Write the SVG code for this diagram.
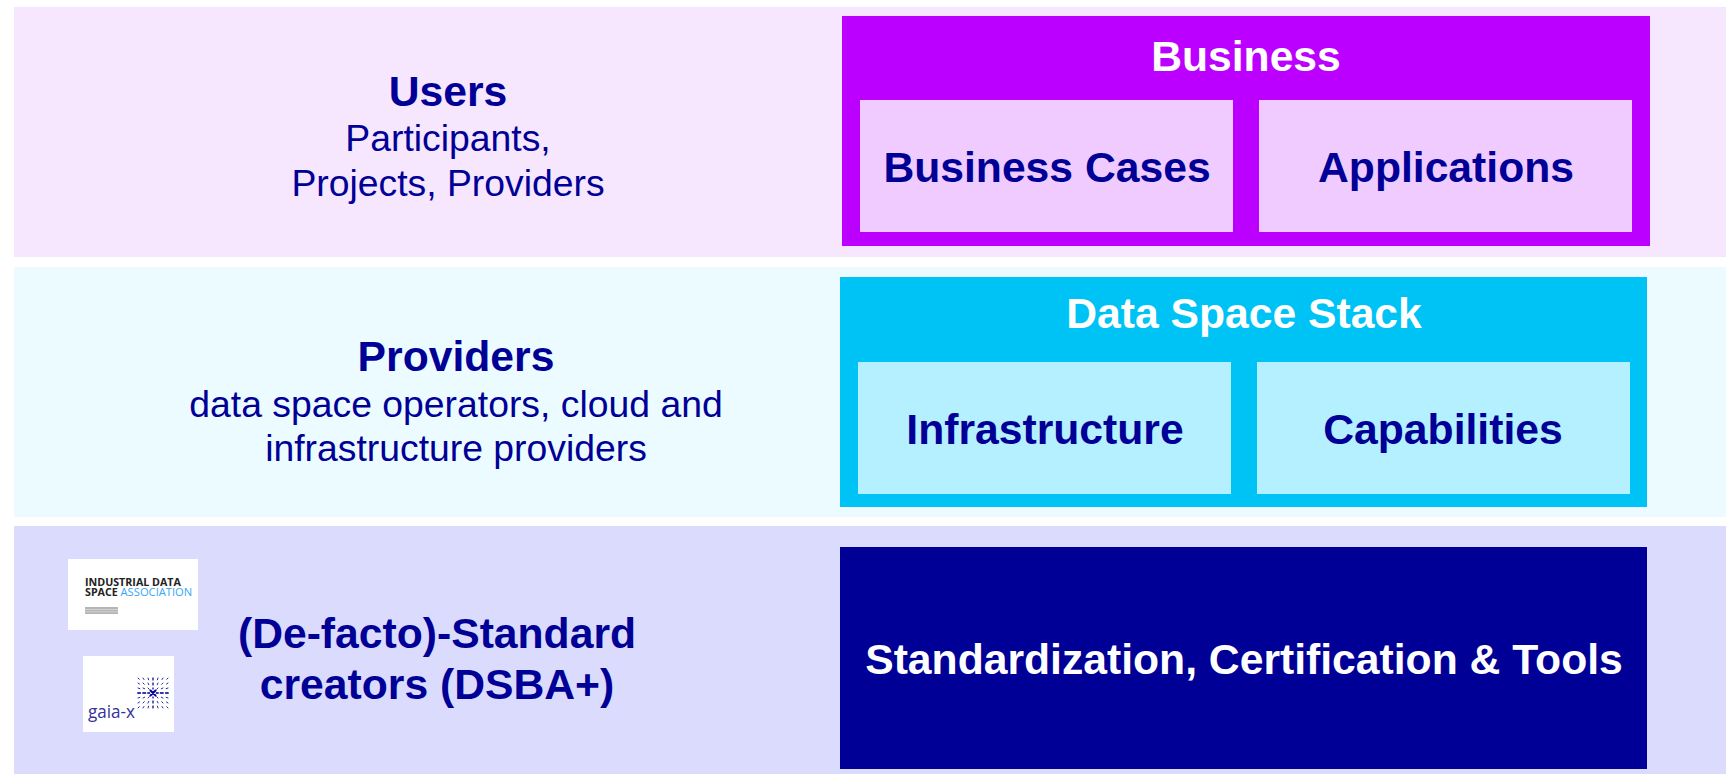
<svg xmlns="http://www.w3.org/2000/svg" width="1726" height="774" viewBox="0 0 1726 774">
<style>
text{font-family:"Liberation Sans",Arial,sans-serif;text-anchor:middle;fill:#000096}
.b{font-weight:700;font-size:42.67px}
.r{font-size:37.33px}
.w{fill:#fff}
.logo{text-anchor:start;font-family:"Open Sans","DejaVu Sans",sans-serif;font-weight:700;font-size:10.7px;fill:#222}
</style>
<defs>
<g id="quad" stroke="#2A2A9C" stroke-linecap="round" fill="none">
<path stroke-width="1" d="M138 678l1.300 1.300M143 678l1 1.500M148 678l.6 1.800M153 678v2M138 683l1.500 1M143 683l1.300 1.300M148 683l.8 1.700M153 683v2M138 688l1.800 .6M143 688l1.700 .8M148 688l1.300 1.300M153 688v1"/>
<path stroke-width="1.500" d="M138 693h2.300M143 693h2.500M148 693h1.500"/>
</g>
</defs>
<rect width="1726" height="774" fill="#fff"/>
<g id="band-users">
<rect x="14" y="7" width="1712" height="250" fill="#F6E6FE"/>
<text class="b" x="448" y="106">Users</text>
<text class="r" x="448" y="151">Participants,</text>
<text class="r" x="448" y="196">Projects, Providers</text>
</g>
<g id="band-providers">
<rect x="14" y="267" width="1712" height="250" fill="#ECFBFF"/>
<text class="b" x="456" y="371">Providers</text>
<text class="r" x="456" y="417">data space operators, cloud and</text>
<text class="r" x="456" y="461">infrastructure providers</text>
</g>
<g id="band-standards">
<rect x="14" y="526" width="1712" height="248" fill="#DBDBFD"/>
<text class="b" x="437" y="648">(De-facto)-Standard</text>
<text class="b" x="437" y="699">creators (DSBA+)</text>
</g>
<g id="logo-idsa">
<rect x="68" y="559" width="130" height="71" fill="#fff"/>
<text class="logo" x="85" y="586">INDUSTRIAL DATA<tspan x="85" dy="10">SPACE </tspan><tspan fill="#3AA5F5" font-weight="400" font-size="11.2">ASSOCIATION</tspan></text>
<rect x="85" y="607" width="33" height="7" fill="#b5b5b5"/>
<path d="M85 609.500h33M85 611.800h33" stroke="#e0e0e0" stroke-width=".7"/>
</g>
<g id="logo-gaiax">
<rect x="83" y="656" width="91" height="76" fill="#fff"/>
<text x="88" y="718" textLength="47" lengthAdjust="spacingAndGlyphs" style="text-anchor:start;font-family:'Open Sans',sans-serif;font-size:19px;fill:#34349A">gaia-x</text>
<use href="#quad"/>
<use href="#quad" transform="translate(306,0) scale(-1,1)"/>
<use href="#quad" transform="translate(0,1386) scale(1,-1)"/>
<use href="#quad" transform="translate(306,1386) scale(-1,-1)"/>
<path d="M150.500 690.500l5 5M155.500 690.500l-5 5" stroke="#000096" stroke-width="2" stroke-linecap="round"/>
</g>
<g id="business">
<rect x="842" y="16" width="808" height="230" fill="#BB00FF"/>
<text class="b w" x="1246" y="71">Business</text>
<rect x="860" y="100" width="373" height="132" fill="#F0CBFF"/>
<text class="b" x="1047" y="182">Business Cases</text>
<rect x="1259" y="100" width="373" height="132" fill="#F0CBFF"/>
<text class="b" x="1446" y="182">Applications</text>
</g>
<g id="stack">
<rect x="840" y="277" width="807" height="230" fill="#00C3F5"/>
<text class="b w" x="1244" y="328">Data Space Stack</text>
<rect x="858" y="362" width="373" height="132" fill="#B4F0FF"/>
<text class="b" x="1045" y="444">Infrastructure</text>
<rect x="1257" y="362" width="373" height="132" fill="#B4F0FF"/>
<text class="b" x="1443" y="444">Capabilities</text>
</g>
<g id="standardization">
<rect x="840" y="547" width="807" height="222" fill="#000096"/>
<text class="b w" x="1244" y="674">Standardization, Certification &amp; Tools</text>
</g>
<g id="connectors"/>
</svg>
